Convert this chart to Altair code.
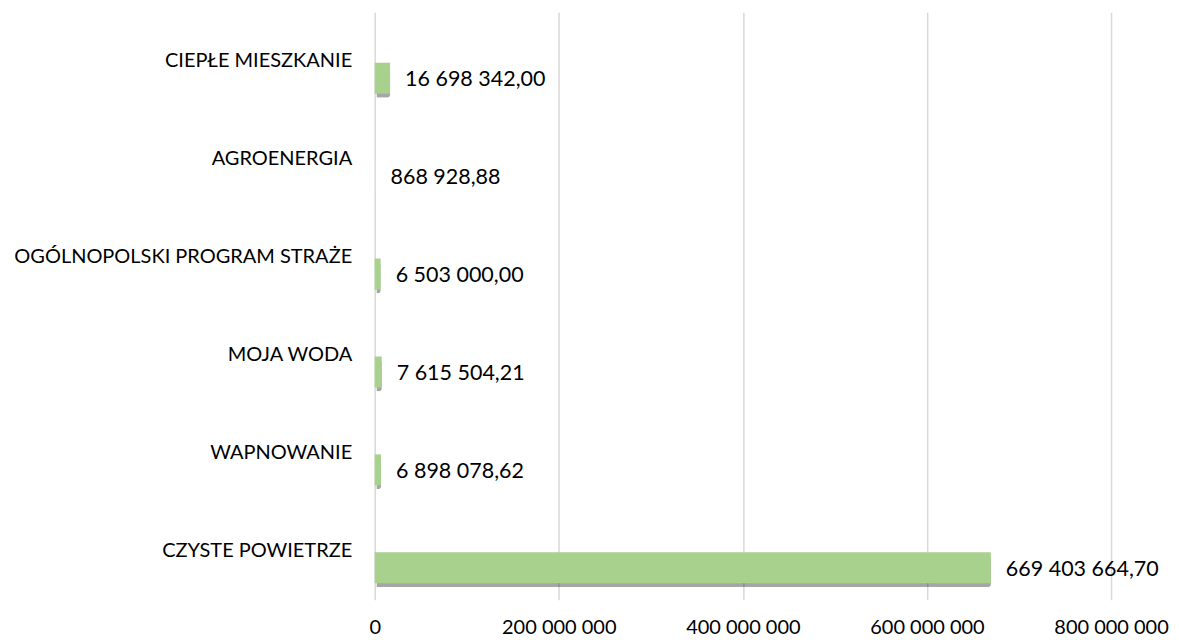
import altair as alt
import pandas as pd

categories = ["CIEPŁE MIESZKANIE", "AGROENERGIA", "OGÓLNOPOLSKI PROGRAM STRAŻE",
              "MOJA WODA", "WAPNOWANIE", "CZYSTE POWIETRZE"]
values = [16698342.00, 868928.88, 6503000.00, 7615504.21, 6898078.62, 669403664.70]
bar_colors = ["#a9d18e", "#e2e8dc", "#a9d18e", "#a9d18e", "#a9d18e", "#a9d18e"]
x_ticks = [0, 200000000, 400000000, 600000000, 800000000]

df = pd.DataFrame({"cat": categories, "val": values, "col": bar_colors})

FONT = "Lato"

y_enc = alt.Y("cat:N", sort=categories, title=None,
              scale=alt.Scale(paddingInner=0, paddingOuter=0),
              axis=alt.Axis(labelFont=FONT, labelFontSize=20, labelColor="#000000",
                            ticks=False, domain=False, labelPadding=23, labelLimit=400))
x_enc = alt.X("val:Q", title=None,
              scale=alt.Scale(domain=[0, 800000000], nice=False),
              axis=alt.Axis(values=x_ticks, format=",d", labelFont=FONT, labelFontSize=20,
                            labelColor="#000000", ticks=False, domain=False,
                            labelPadding=18, grid=True, gridColor="#d9d9d9",
                            gridWidth=1.5, labelFlush=False))

base = alt.Chart(df)

shadow = base.mark_bar(height=31, yOffset=21, xOffset=2, color="#000000",
                       opacity=0.35, cornerRadius=3).encode(y=y_enc, x=x_enc)

bars = base.mark_bar(height=31, yOffset=17).encode(
    y=y_enc, x=x_enc, color=alt.Color("col:N", scale=None))

labels = base.mark_text(align="left", baseline="middle", dx=15, dy=19,
                        font=FONT, fontSize=21.5, color="#000000").encode(
    y=y_enc, x=x_enc, text=alt.Text("val:Q", format=",.2f"))

chart = alt.layer(shadow, bars, labels).properties(
    width=737, height=588,
    autosize=alt.AutoSizeParams(type="none"),
    padding={"left": 367, "top": 4, "right": 60, "bottom": 40},
).configure(
    locale={"number": {"decimal": ",", "thousands": " ", "grouping": [3],
                       "currency": ["", " zł"]}},
    view=alt.ViewConfig(stroke=None),
)

chart.save("out.html", embed_options={"renderer": "svg", "actions": False})
